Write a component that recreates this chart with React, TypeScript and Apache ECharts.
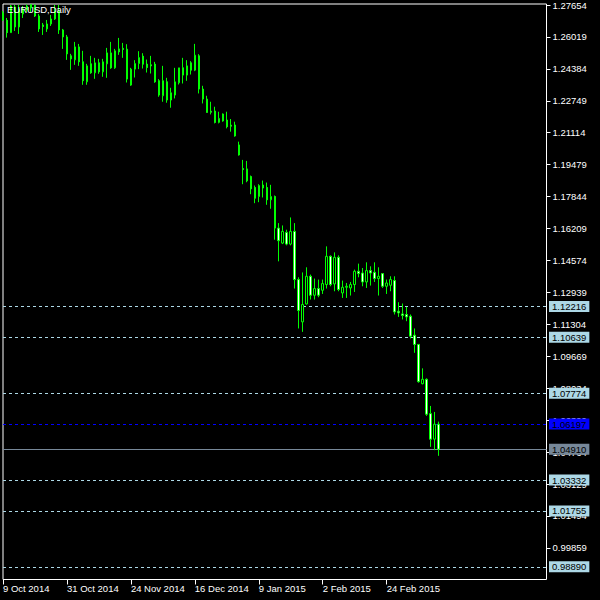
import React, { useEffect, useRef } from "react";
import * as echarts from "echarts";

const MONTHS = ["Jan", "Feb", "Mar", "Apr", "May", "Jun", "Jul", "Aug", "Sep", "Oct", "Nov", "Dec"];
const HOLIDAYS = ["2014-12-25", "2015-01-01"];
const BAR_COUNT = 110;
const PAD_COUNT = 27;

const X_TICKS = ["9 Oct 2014", "31 Oct 2014", "24 Nov 2014", "16 Dec 2014", "9 Jan 2015", "2 Feb 2015", "24 Feb 2015"];

const Y_TICKS = [1.27654, 1.26019, 1.24384, 1.22749, 1.21114, 1.19479, 1.17844, 1.16209, 1.14574, 1.12939,
  1.11304, 1.09669, 1.08034, 1.06399, 1.04764, 1.03129, 1.01494, 0.99859];

const Y_MIN = 0.98242;
const Y_MAX = 1.27705;

const DASHED_LEVELS = [1.12216, 1.10639, 1.07774, 1.03332, 1.01755, 0.9889];
const BLUE_LEVEL = 1.06197;
const BID_LEVEL = 1.0491;

const OPEN = [
  1.27245, 1.26873, 1.26239, 1.27552, 1.26530, 1.27450, 1.27603, 1.27679, 1.27638, 1.27092,
  1.26633, 1.26428, 1.26683, 1.26939, 1.27347, 1.26377, 1.26020, 1.25050, 1.24845, 1.25509,
  1.24744, 1.23722, 1.24641, 1.24182, 1.24692, 1.24233, 1.24641, 1.25203, 1.24437, 1.25407,
  1.25433, 1.25392, 1.23554, 1.24371, 1.24657, 1.25034, 1.24626, 1.24590, 1.24626, 1.23777,
  1.23007, 1.23722, 1.22788, 1.23043, 1.23671, 1.24437, 1.24064, 1.24692, 1.24319, 1.25050,
  1.23349, 1.22839, 1.22216, 1.22226, 1.21644, 1.22073, 1.21766, 1.21501, 1.21511, 1.20490,
  1.19279, 1.19264, 1.18871, 1.18309, 1.17850, 1.18437, 1.18309, 1.17681, 1.17850, 1.16231,
  1.15465, 1.16012, 1.15414, 1.16064, 1.13596, 1.11431, 1.12351, 1.13765, 1.12795, 1.13137,
  1.13050, 1.13341, 1.14786, 1.13372, 1.14735, 1.12912, 1.13203, 1.13168, 1.13341, 1.14020,
  1.13933, 1.13474, 1.14056, 1.13969, 1.13647, 1.13903, 1.13254, 1.13305, 1.13545, 1.11978,
  1.11840, 1.11809, 1.11722, 1.10752, 1.10277, 1.08265, 1.08490, 1.06734, 1.05426, 1.06192,
];

const HIGH = [
  1.27347, 1.26990, 1.27654, 1.27654, 1.27654, 1.27603, 1.27679, 1.27679, 1.27679, 1.27194,
  1.26735, 1.26888, 1.27143, 1.27654, 1.27654, 1.26428, 1.26122, 1.25152, 1.25765, 1.25661,
  1.25307, 1.24641, 1.25050, 1.24948, 1.24896, 1.24896, 1.25458, 1.25765, 1.25407, 1.25969,
  1.25713, 1.25647, 1.24437, 1.24830, 1.25290, 1.25187, 1.24861, 1.25050, 1.24744, 1.23860,
  1.24539, 1.23926, 1.23416, 1.24437, 1.24437, 1.24948, 1.24830, 1.24779, 1.25663, 1.25136,
  1.23518, 1.23007, 1.22701, 1.22446, 1.22190, 1.22103, 1.22190, 1.21817, 1.21680, 1.20658,
  1.19724, 1.19673, 1.18922, 1.18412, 1.18478, 1.18667, 1.18565, 1.18447, 1.17901, 1.16487,
  1.16369, 1.16149, 1.16778, 1.16487, 1.13714, 1.13963, 1.14225, 1.13852, 1.13648, 1.13597,
  1.13597, 1.15297, 1.14837, 1.14990, 1.14837, 1.13545, 1.13423, 1.13474, 1.14107, 1.14413,
  1.14189, 1.14480, 1.14276, 1.14480, 1.14225, 1.13903, 1.13597, 1.13765, 1.13765, 1.12437,
  1.12371, 1.12197, 1.11809, 1.11094, 1.10277, 1.09052, 1.08541, 1.07127, 1.06821, 1.06325,
];

const LOW = [
  1.26837, 1.25984, 1.26224, 1.26326, 1.26173, 1.26990, 1.27296, 1.27296, 1.27041, 1.26275,
  1.26122, 1.26275, 1.26582, 1.26888, 1.26173, 1.25407, 1.24845, 1.24335, 1.24590, 1.24539,
  1.23569, 1.23569, 1.24131, 1.23875, 1.24131, 1.23978, 1.23926, 1.24386, 1.24386, 1.25101,
  1.24948, 1.23686, 1.23515, 1.23942, 1.24371, 1.24401, 1.24197, 1.24146, 1.23671, 1.22956,
  1.22701, 1.22650, 1.22395, 1.22869, 1.23584, 1.23635, 1.23773, 1.24095, 1.24268, 1.23125,
  1.22614, 1.22139, 1.22052, 1.21593, 1.21593, 1.21680, 1.21338, 1.21169, 1.20913, 1.19943,
  1.18478, 1.18580, 1.17967, 1.17508, 1.17559, 1.17799, 1.17426, 1.17222, 1.15639, 1.14531,
  1.15414, 1.15348, 1.15348, 1.13137, 1.11094, 1.10920, 1.12320, 1.12575, 1.12575, 1.12693,
  1.12861, 1.13137, 1.13254, 1.12999, 1.12999, 1.12657, 1.12657, 1.12780, 1.12963, 1.13714,
  1.13254, 1.13168, 1.13290, 1.13474, 1.12780, 1.13168, 1.12861, 1.12999, 1.11809, 1.11686,
  1.11554, 1.11467, 1.10584, 1.09848, 1.08317, 1.08235, 1.06616, 1.05033, 1.04865, 1.04574,
];

const CLOSE = [
  1.26888, 1.26239, 1.27603, 1.26530, 1.27450, 1.27194, 1.27399, 1.27501, 1.27092, 1.26428,
  1.26556, 1.26683, 1.26939, 1.27347, 1.26377, 1.26020, 1.25152, 1.24896, 1.25509, 1.24744,
  1.23777, 1.24539, 1.24182, 1.24692, 1.24233, 1.24744, 1.25203, 1.24437, 1.25307, 1.25254,
  1.25382, 1.23860, 1.24371, 1.24657, 1.24963, 1.24626, 1.24452, 1.24539, 1.23722, 1.23043,
  1.23777, 1.22788, 1.23160, 1.23722, 1.24437, 1.24064, 1.24539, 1.24319, 1.25085, 1.23349,
  1.22839, 1.22155, 1.22165, 1.21644, 1.21848, 1.21715, 1.21424, 1.21450, 1.20949, 1.19979,
  1.19228, 1.18651, 1.18243, 1.17763, 1.18412, 1.18284, 1.17681, 1.17850, 1.16231, 1.15588,
  1.16064, 1.15414, 1.16064, 1.13596, 1.12013, 1.12320, 1.13765, 1.12795, 1.13137, 1.12795,
  1.13392, 1.14786, 1.13341, 1.14735, 1.13086, 1.13203, 1.13254, 1.13341, 1.14020, 1.13903,
  1.13474, 1.14056, 1.13933, 1.13647, 1.13765, 1.13254, 1.13423, 1.13597, 1.11942, 1.11891,
  1.11758, 1.11686, 1.10701, 1.10277, 1.08368, 1.08490, 1.06703, 1.05426, 1.06192, 1.04910,
];

function buildDates(): string[] {
  const out: string[] = [];
  const d = new Date(Date.UTC(2014, 9, 9));
  while (out.length < BAR_COUNT) {
    const wd = d.getUTCDay();
    const iso = d.toISOString().slice(0, 10);
    if (wd !== 0 && wd !== 6 && !HOLIDAYS.includes(iso)) {
      out.push(`${d.getUTCDate()} ${MONTHS[d.getUTCMonth()]} ${d.getUTCFullYear()}`);
    }
    d.setUTCDate(d.getUTCDate() + 1);
  }
  for (let k = 0; k < PAD_COUNT; k++) out.push(`pad${k}`);
  return out;
}

const FONT = "Liberation Sans";
const FS = 9.5;

function levelItem(v: number, lineColor: string, boxColor: string, textColor: string, dashed: boolean) {
  return {
    yAxis: v,
    lineStyle: { color: lineColor, width: 1, type: dashed ? [3, 3] : "solid" },
    label: {
      show: true,
      position: "end",
      distance: 2.5,
      formatter: () => v.toFixed(5),
      backgroundColor: boxColor,
      color: textColor,
      padding: [1, 3, 0, 3],
      fontSize: FS,
      fontFamily: FONT,
    },
  };
}

export default function App() {
  const ref = useRef<HTMLDivElement>(null);
  useEffect(() => {
    if (!ref.current) return;
    const chart = echarts.init(ref.current, undefined, { renderer: "svg" });
    const cats = buildDates();
    const data = CLOSE.map((c, i) => [OPEN[i], c, LOW[i], HIGH[i]]);
    const markData: any[] = DASHED_LEVELS.map((v) => levelItem(v, "#add8e6", "#add8e6", "#000000", true));
    markData.push(levelItem(BLUE_LEVEL, "#0000ff", "#0000ff", "#000000", true));
    markData.push(levelItem(BID_LEVEL, "#778899", "#778899", "#000000", false));

    chart.setOption({
      animation: false,
      backgroundColor: "#000000",
      grid: {
        left: 2.5,
        top: 2.5,
        width: 544,
        height: 577,
        show: true,
        borderColor: "#ffffff",
        borderWidth: 1,
        backgroundColor: "transparent",
      },
      xAxis: {
        type: "category",
        data: cats,
        boundaryGap: false,
        axisLine: { show: false },
        axisTick: {
          show: true,
          length: 5,
          lineStyle: { color: "#ffffff", width: 1 },
          interval: (_i: number, v: string) => X_TICKS.includes(v),
        },
        axisLabel: {
          show: true,
          color: "#ffffff",
          fontSize: FS,
          fontFamily: FONT,
          align: "left",
          margin: 4,
          interval: (_i: number, v: string) => X_TICKS.includes(v),
        },
        splitLine: { show: false },
      },
      yAxis: {
        type: "value",
        position: "right",
        min: Y_MIN,
        max: Y_MAX,
        scale: true,
        axisLine: { show: false },
        axisTick: {
          show: true,
          length: 4,
          lineStyle: { color: "#ffffff", width: 1 },
          customValues: Y_TICKS,
        },
        axisLabel: {
          show: true,
          color: "#ffffff",
          fontSize: FS,
          fontFamily: FONT,
          margin: 6,
          customValues: Y_TICKS,
          formatter: (v: number) => v.toFixed(5),
        },
        splitLine: { show: false },
      },
      graphic: [
        {
          type: "text",
          left: 7,
          top: 4,
          z: 100,
          style: {
            text: "EURUSD,Daily",
            fill: "#ffffff",
            fontSize: FS,
            fontFamily: FONT,
          },
        },
      ],
      series: [
        {
          type: "candlestick",
          data,
          barWidth: 2,
          z: 3,
          itemStyle: {
            color: "#000000",
            color0: "#ffffff",
            borderColor: "#00ff00",
            borderColor0: "#00ff00",
            borderColorDoji: "#00ff00",
            borderWidth: 1,
          },
          markLine: {
            silent: true,
            symbol: ["none", "none"],
            precision: 5,
            z: 1,
            data: markData,
          },
        },
      ],
    });
    return () => chart.dispose();
  }, []);
  return <div ref={ref} style={{ position: "fixed", left: 0, top: 0, width: 600, height: 600 }} />;
}
